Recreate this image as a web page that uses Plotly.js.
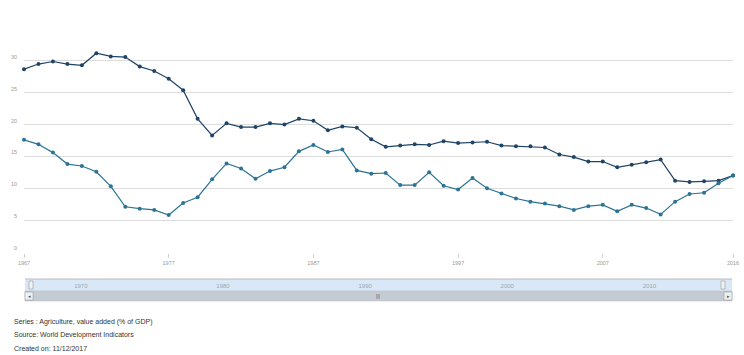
<!DOCTYPE html>
<html>
<head>
<meta charset="utf-8">
<script src="https://cdn.plot.ly/plotly-3.0.1.min.js"></script>
<style>html,body{margin:0;padding:0;background:#fff;}#chart{width:744px;height:355px;}</style>
</head>
<body>
<div id="chart"></div>
<script>
var years = [];
for (var y = 1967; y <= 2016; y++) years.push(y);

var seriesUpper = [28.7, 29.5, 29.9, 29.5, 29.3, 31.2, 30.7, 30.6, 29.1, 28.4,
  27.2, 25.4, 20.9, 18.3, 20.2, 19.6, 19.6, 20.2, 20.0, 20.9,
  20.6, 19.1, 19.7, 19.5, 17.7, 16.5, 16.7, 16.9, 16.8, 17.4,
  17.1, 17.2, 17.3, 16.7, 16.6, 16.6, 16.4, 15.3, 14.9, 14.2,
  14.2, 13.3, 13.7, 14.1, 14.5, 11.2, 11.0, 11.1, 11.2, 12.0];

var seriesLower = [17.6, 16.9, 15.6, 13.8, 13.5, 12.6, 10.3, 7.1, 6.8, 6.6,
  5.8, 7.7, 8.6, 11.4, 13.9, 13.1, 11.5, 12.7, 13.3, 15.8,
  16.8, 15.7, 16.1, 12.8, 12.3, 12.4, 10.5, 10.5, 12.5, 10.4,
  9.8, 11.6, 10.0, 9.2, 8.4, 7.9, 7.6, 7.2, 6.6, 7.2,
  7.4, 6.4, 7.4, 6.9, 5.9, 7.9, 9.1, 9.3, 10.8, 12.0];

var xTickVals = [1967, 1977, 1987, 1997, 2007, 2016];
var yTickVals = [0, 5, 10, 15, 20, 25, 30, 35];
var yTickText = ['0', '5', '10', '15', '20', '25', '30', ''];
var navTickVals = [1970, 1980, 1990, 2000, 2010];
var footerLines = [
  'Series : Agriculture, value added (% of GDP)',
  'Source: World Development Indicators',
  'Created on: 11/12/2017'
];

var colUpper = '#1f4466';
var colLower = '#2c7396';

var traces = [
  {x: years, y: seriesUpper, type: 'scatter', mode: 'lines+markers', cliponaxis: false,
   line: {color: colUpper, width: 1.2}, marker: {color: colUpper, size: 4}, hoverinfo: 'x+y'},
  {x: years, y: seriesLower, type: 'scatter', mode: 'lines+markers', cliponaxis: false,
   line: {color: colLower, width: 1.2}, marker: {color: colLower, size: 4}, hoverinfo: 'x+y'}
];

// pixel helpers for layout decoration (paper coordinates)
var L = 24, R = 11, T = 29, B = 5, W = 744, H = 355;
function px(x) { return (x - L) / (W - L - R); }
function py(y) { return (H - B - y) / (H - T - B); }

var shapes = [
  // navigator band
  {type: 'rect', xref: 'paper', yref: 'paper', x0: px(25), x1: px(732), y0: py(291), y1: py(279),
   fillcolor: '#d9e7f7', line: {width: 0}, layer: 'below'},
  {type: 'line', xref: 'paper', yref: 'paper', x0: px(25), x1: px(732), y0: py(279), y1: py(279),
   line: {color: '#b8bcc2', width: 1}},
  // scrollbar
  {type: 'rect', xref: 'paper', yref: 'paper', x0: px(25), x1: px(732), y0: py(301), y1: py(291),
   fillcolor: '#c5cbd3', line: {color: '#b4bac2', width: 0.5}, layer: 'below'},
  // left scroll button
  {type: 'rect', xref: 'paper', yref: 'paper', x0: px(25), x1: px(33), y0: py(300), y1: py(292),
   fillcolor: '#eef0f2', line: {color: '#9aa0a6', width: 0.6}},
  // right scroll button
  {type: 'rect', xref: 'paper', yref: 'paper', x0: px(724), x1: px(732), y0: py(300), y1: py(292),
   fillcolor: '#eef0f2', line: {color: '#9aa0a6', width: 0.6}},
  // navigator handles
  {type: 'rect', xref: 'paper', yref: 'paper', x0: px(29), x1: px(33), y0: py(289), y1: py(281),
   fillcolor: '#f2f2f2', line: {color: '#999', width: 0.6}},
  {type: 'rect', xref: 'paper', yref: 'paper', x0: px(721), x1: px(725), y0: py(289), y1: py(281),
   fillcolor: '#f2f2f2', line: {color: '#999', width: 0.6}}
];

var annotations = [
  {xref: 'paper', yref: 'paper', x: px(29), y: py(296), text: '◂', showarrow: false,
   font: {size: 5, color: '#555'}, xanchor: 'center', yanchor: 'middle'},
  {xref: 'paper', yref: 'paper', x: px(728), y: py(296), text: '▸', showarrow: false,
   font: {size: 5, color: '#555'}, xanchor: 'center', yanchor: 'middle'},
  {xref: 'paper', yref: 'paper', x: px(378), y: py(296), text: '|||', showarrow: false,
   font: {size: 5, color: '#555', family: 'Liberation Sans, Arial, sans-serif'}, xanchor: 'center', yanchor: 'middle'}
];
var footerY = [322, 335, 348];
footerLines.forEach(function (t, i) {
  annotations.push({xref: 'paper', yref: 'paper', x: px(12), y: py(footerY[i]), text: t,
    showarrow: false, xanchor: 'left', yanchor: 'middle',
    font: {size: 7, color: '#333', family: 'Liberation Sans, Arial, sans-serif'}});
});

var layout = {
  width: W, height: H,
  margin: {l: L, r: R, t: T, b: B, pad: 0},
  paper_bgcolor: '#fff', plot_bgcolor: '#fff',
  showlegend: false,
  font: {family: 'Liberation Sans, Arial, sans-serif', color: '#999', size: 5.5},
  xaxis: {
    range: [1967, 2016], domain: [0, 1], anchor: 'y',
    tickvals: xTickVals, ticks: 'outside', ticklen: 4, tickcolor: '#c8c8c8', tickwidth: 0.8,
    showgrid: false, zeroline: false,
    showline: true, linecolor: '#ffffff', linewidth: 2,
    tickfont: {size: 5.5, color: '#999'}
  },
  yaxis: {
    range: [0, 35], domain: [py(252), 1], anchor: 'x',
    tickvals: yTickVals, ticktext: yTickText,
    showgrid: true, gridcolor: '#dcdcdc', gridwidth: 1,
    zeroline: false, ticks: '', ticklabelstandoff: 6, ticklabelshift: -4,
    tickfont: {size: 5.5, color: '#999'}
  },
  xaxis2: {
    range: [1966.0, 2015.88], domain: [px(25), px(732)], anchor: 'free', position: py(281),
    overlaying: 'x', side: 'bottom',
    tickvals: navTickVals, ticks: '', showgrid: false, zeroline: false, showline: false,
    tickfont: {size: 6, color: '#9aa'}
  },
  shapes: shapes,
  annotations: annotations
};

// dummy invisible trace to activate xaxis2
traces.push({x: [navTickVals[0]], y: [0], xaxis: 'x2', yaxis: 'y', mode: 'markers',
  marker: {opacity: 0}, hoverinfo: 'skip', showlegend: false});

Plotly.newPlot('chart', traces, layout, {staticPlot: true, displayModeBar: false});
</script>
</body>
</html>
